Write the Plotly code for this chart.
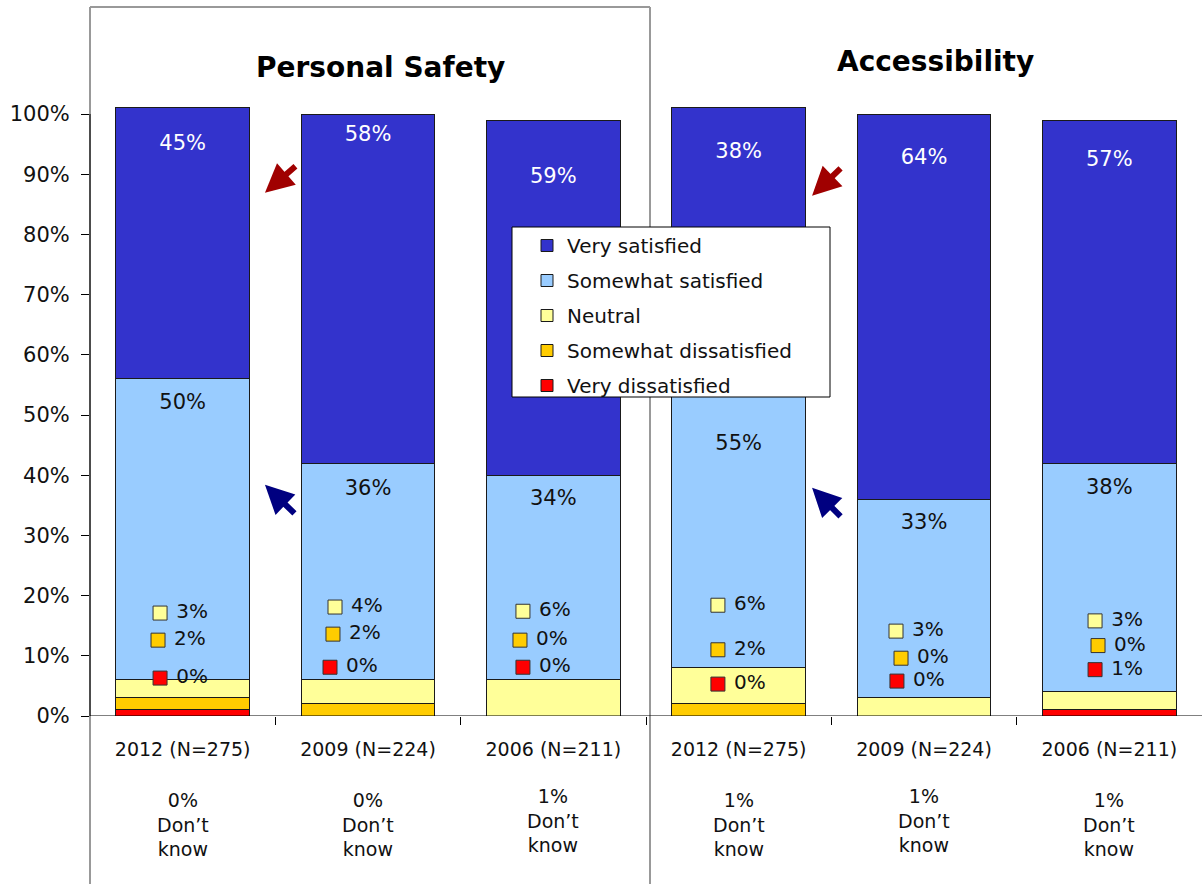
import plotly.graph_objects as go

# ---------------- data ----------------
categories = ["2012 (N=275)", "2009 (N=224)", "2006 (N=211)",
              "2012 (N=275)", "2009 (N=224)", "2006 (N=211)"]
dont_know = [0, 0, 1, 1, 1, 1]

very_satisfied = [45, 58, 59, 38, 64, 57]
somewhat_satisfied = [50, 36, 34, 55, 33, 38]
neutral = [3, 4, 6, 6, 3, 3]
somewhat_dissatisfied = [2, 2, 0, 2, 0, 0]
very_dissatisfied = [1, 0, 0, 0, 0, 1]
very_dissatisfied_label = [0, 0, 0, 0, 0, 1]

panel_titles = ["Personal Safety", "Accessibility"]

# ---------------- layout helpers (positions, not data) ----------------
vs_label_y = [94.9, 96.4, 89.4, 93.6, 92.6, 92.3]
ss_label_y = [51.9, 37.6, 35.9, 45.1, 32.0, 37.8]
n_label_y = [17.1, 18.1, 17.4, 18.4, 14.1, 15.8]
sd_label_y = [12.6, 13.6, 12.6, 11.0, 9.6, 11.7]
vd_label_y = [6.3, 8.1, 8.1, 5.3, 5.8, 7.7]
n_label_dx = [-0.122, -0.178, -0.164, -0.112, -0.151, -0.077]
sd_label_dx = [-0.133, -0.189, -0.180, -0.112, -0.124, -0.061]
vd_label_dx = [-0.122, -0.205, -0.164, -0.112, -0.146, -0.077]
dk_label_y = [-0.1008, -0.1008, -0.095, -0.1008, -0.095, -0.1008]

C_VS = "#3333CC"
C_SS = "#99CCFF"
C_N = "#FFFF99"
C_SD = "#FFCC00"
C_VD = "#FF0000"
FONT = "DejaVu Sans"

x = list(range(len(categories)))

fig = go.Figure()
series = [
    ("Very dissatisfied", very_dissatisfied, C_VD, 5),
    ("Somewhat dissatisfied", somewhat_dissatisfied, C_SD, 4),
    ("Neutral", neutral, C_N, 3),
    ("Somewhat satisfied", somewhat_satisfied, C_SS, 2),
    ("Very satisfied", very_satisfied, C_VS, 1),
]
for name, vals, col, rank in series:
    fig.add_trace(go.Bar(
        x=x, y=vals, name=name, width=0.72,
        marker=dict(color=col, line=dict(color="#1a1a1a", width=1)),
        legendgroup=name, legendrank=rank,
    ))

# big value labels
fig.add_trace(go.Scatter(
    x=x, y=vs_label_y, mode="text", text=[f"{v}%" for v in very_satisfied],
    textfont=dict(family=FONT, size=21, color="white"), showlegend=False, hoverinfo="skip"))
fig.add_trace(go.Scatter(
    x=x, y=ss_label_y, mode="text", text=[f"{v}%" for v in somewhat_satisfied],
    textfont=dict(family=FONT, size=21, color="#111111"), showlegend=False, hoverinfo="skip"))

# small labels with coloured squares
for vals, ys, dxs, col in [
    (neutral, n_label_y, n_label_dx, C_N),
    (somewhat_dissatisfied, sd_label_y, sd_label_dx, C_SD),
    (very_dissatisfied_label, vd_label_y, vd_label_dx, C_VD),
]:
    fig.add_trace(go.Scatter(
        x=[xi + d for xi, d in zip(x, dxs)], y=ys, mode="markers+text",
        text=[f" {v}%" for v in vals], textposition="middle right",
        marker=dict(symbol="square", size=14, color=col, line=dict(color="#333333", width=1)),
        textfont=dict(family=FONT, size=20, color="#111111"),
        showlegend=False, hoverinfo="skip"))

# don't know annotations
for xi, dk, yy in zip(x, dont_know, dk_label_y):
    fig.add_annotation(x=xi, y=yy, xref="x", yref="paper", yanchor="top",
                       text=f"{dk}%<br>Don’t<br>know", showarrow=False,
                       font=dict(family=FONT, size=19, color="#111111"))

# panel titles
fig.add_annotation(x=1.0 + (380 - 368) / 185.3, y=1.0 - (68 - 7) / 709, xref="x", yref="paper",
                   yanchor="middle", text=f"<b>{panel_titles[0]}</b>", showarrow=False,
                   font=dict(family=FONT, size=28, color="black"))
fig.add_annotation(x=4.0 + (935 - 924) / 185.3, y=1.0 - (62 - 7) / 709, xref="x", yref="paper",
                   yanchor="middle", text=f"<b>{panel_titles[1]}</b>", showarrow=False,
                   font=dict(family=FONT, size=28, color="black"))

# arrows
for hx, hy, ax, ay, col in [
    (0.444, 86.9, 32, -28, "#A00000"),
    (0.444, 38.4, 31, 30, "#000080"),
    (3.396, 86.4, 30, -29, "#A00000"),
    (3.396, 37.9, 30, 30, "#000080"),
]:
    fig.add_annotation(x=hx, y=hy, xref="x", yref="y", ax=ax, ay=ay,
                       axref="pixel", ayref="pixel", showarrow=True,
                       arrowhead=2, arrowsize=0.95, arrowwidth=6, arrowcolor=col, text="")

# frame box around left panel and axis line
fig.add_shape(type="line", xref="paper", yref="paper", x0=0, x1=0.5036, y0=1, y1=1,
              line=dict(color="#999999", width=2))
fig.add_shape(type="line", xref="paper", yref="paper", x0=0.5036, x1=0.5036, y0=1, y1=-0.3,
              line=dict(color="#999999", width=2))
fig.add_shape(type="line", xref="paper", yref="paper", x0=0, x1=0, y0=1, y1=-0.3,
              line=dict(color="#999999", width=2))
fig.add_shape(type="line", xref="paper", yref="y", x0=0, x1=0, y0=-1.3, y1=100,
              line=dict(color="black", width=1))
fig.add_shape(type="line", xref="paper", yref="y", x0=0, x1=1, y0=0, y1=0,
              line=dict(color="black", width=1))
# legend box
fig.add_shape(type="rect", xref="paper", yref="paper", layer="above",
              x0=(512 - 90) / 1112, x1=(830 - 90) / 1112,
              y0=(716 - 397) / 709, y1=(716 - 227) / 709,
              fillcolor="white", line=dict(color="black", width=1))

fig.update_layout(
    width=1202, height=884,
    margin=dict(l=90, r=0, t=7, b=168),
    paper_bgcolor="white", plot_bgcolor="white",
    barmode="stack",
    font=dict(family=FONT, size=20, color="#111111"),
    showlegend=True,
    legend=dict(x=(527 - 90) / 1112, y=(716 - 226) / 709, xanchor="left", yanchor="top",
                traceorder="grouped", tracegroupgap=6,
                bgcolor="rgba(0,0,0,0)", borderwidth=0,
                font=dict(family=FONT, size=20, color="#111111")),
    xaxis=dict(range=[-0.5, 5.5], tickvals=x, ticktext=categories, ticks="",
               showgrid=False, zeroline=False, showline=False,
               tickfont=dict(family=FONT, size=19),
               ticklabelstandoff=20,
               minor=dict(tickvals=[i - 0.5 for i in range(len(x) + 1)], ticks="outside",
                          ticklen=8, tickcolor="black", showgrid=False)),
    yaxis=dict(range=[0, (716 - 7) / 6.02], tickvals=list(range(0, 101, 10)),
               ticktext=[f"{v}%" for v in range(0, 101, 10)], ticks="outside",
               ticklen=8, tickcolor="black", showgrid=False, zeroline=False,
               showline=False, tickfont=dict(family=FONT, size=21),
               ticklabelstandoff=7),
)

fig.write_html("out.html", config={"displayModeBar": False},
               post_script="document.body.style.margin='0px';")
